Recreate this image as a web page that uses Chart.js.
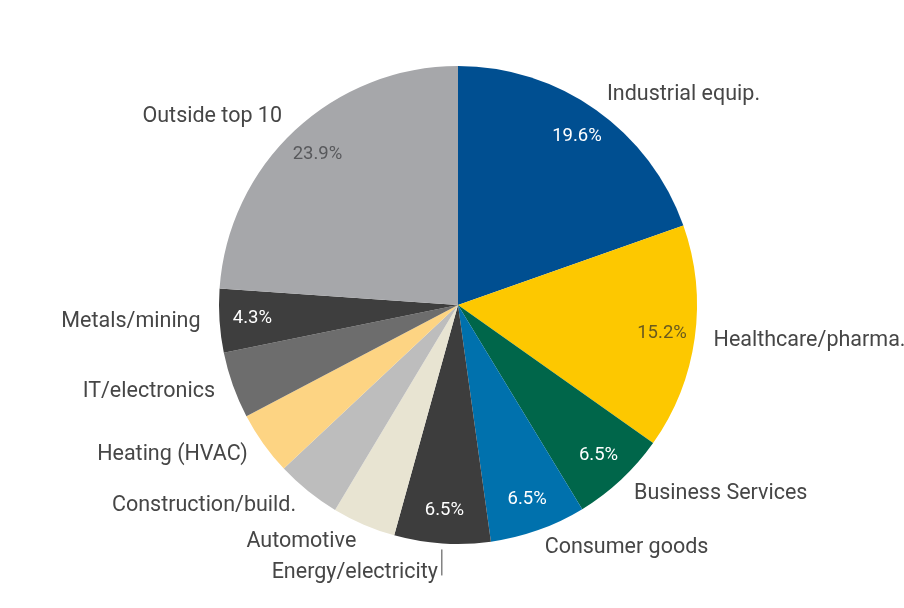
<!DOCTYPE html>
<html>
<head>
<meta charset="utf-8">
<script src="https://cdn.jsdelivr.net/npm/chart.js@4/dist/chart.umd.min.js"></script>
<style>
  html, body { margin: 0; padding: 0; background: #fff; }
  #wrap { width: 904px; height: 608px; }
</style>
</head>
<body>
<div id="wrap"><canvas id="pie" width="904" height="608"></canvas></div>
<script>
// sector shares, clockwise from 12 o'clock
const sectors = [
  "Industrial equip.", "Healthcare/pharma.", "Business Services", "Consumer goods",
  "Energy/electricity", "Automotive", "Construction/build.", "Heating (HVAC)",
  "IT/electronics", "Metals/mining", "Outside top 10"
];
const shares = [19.6, 15.2, 6.5, 6.5, 6.5, 4.3, 4.4, 4.3, 4.5, 4.3, 23.9];
// slices that carry a percentage inside
const pctShown = [
  "Industrial equip.", "Healthcare/pharma.", "Business Services", "Consumer goods",
  "Energy/electricity", "Metals/mining", "Outside top 10"
];

const sliceColors = [
  "#004f91", "#fdc800", "#00664a", "#0071ad", "#3d3d3d", "#e8e4d2",
  "#bdbdbd", "#fdd483", "#6d6d6d", "#3e3e3e", "#a6a7aa"
];
const pctColors = [
  "#ffffff", "#6a5a1e", "#ffffff", "#ffffff", "#ffffff", "#333",
  "#333", "#333", "#ffffff", "#ffffff", "#58595c"
];

const labelFont = "21.5px Roboto, 'Noto Sans', sans-serif";
const pctFont = "18.5px Roboto, 'Noto Sans', sans-serif";

const sliceLabels = {
  id: "sliceLabels",
  afterDatasetsDraw(chart, args, opts) {
    const ctx = chart.ctx;
    const arcs = chart.getDatasetMeta(0).data;
    ctx.save();
    ctx.textBaseline = "middle";
    arcs.forEach((arc, i) => {
      const { x, y, startAngle, endAngle, outerRadius } = arc.getProps(
        ["x", "y", "startAngle", "endAngle", "outerRadius"], true);
      const mid = (startAngle + endAngle) / 2;
      const cos = Math.cos(mid), sin = Math.sin(mid);
      const name = chart.data.labels[i];

      // percentage inside the slice
      if (pctShown.includes(name)) {
        const r = outerRadius - 33;
        ctx.font = pctFont;
        ctx.fillStyle = pctColors[i];
        ctx.textAlign = "center";
        ctx.fillText(shares[i].toFixed(1) + "%", x + cos * r, y + sin * r);
      }

      // category name outside
      ctx.font = labelFont;
      ctx.fillStyle = "#464646";
      if (name === opts.leaderFor) {
        const lx = x + cos * (outerRadius + 6);
        const ly = y + sin * (outerRadius + 6);
        ctx.strokeStyle = "#444";
        ctx.lineWidth = 1;
        ctx.beginPath();
        ctx.moveTo(lx, ly);
        ctx.lineTo(lx, ly + 26);
        ctx.stroke();
        ctx.textAlign = "right";
        ctx.fillText(name, lx - 4, ly + 23);
      } else {
        const r = outerRadius + 19;
        ctx.textAlign = cos >= 0 ? "left" : "right";
        ctx.fillText(name, x + cos * r, y + sin * r);
      }
    });
    ctx.restore();
  }
};

new Chart(document.getElementById("pie"), {
  type: "pie",
  data: {
    labels: sectors,
    datasets: [{
      data: shares,
      backgroundColor: sliceColors,
      borderWidth: 0
    }]
  },
  options: {
    responsive: false,
    animation: false,
    layout: { padding: { top: 66, bottom: 64, left: 120, right: 108 } },
    plugins: {
      legend: { display: false },
      tooltip: { enabled: false },
      sliceLabels: { leaderFor: "Energy/electricity" }
    }
  },
  plugins: [sliceLabels]
});
</script>
</body>
</html>
